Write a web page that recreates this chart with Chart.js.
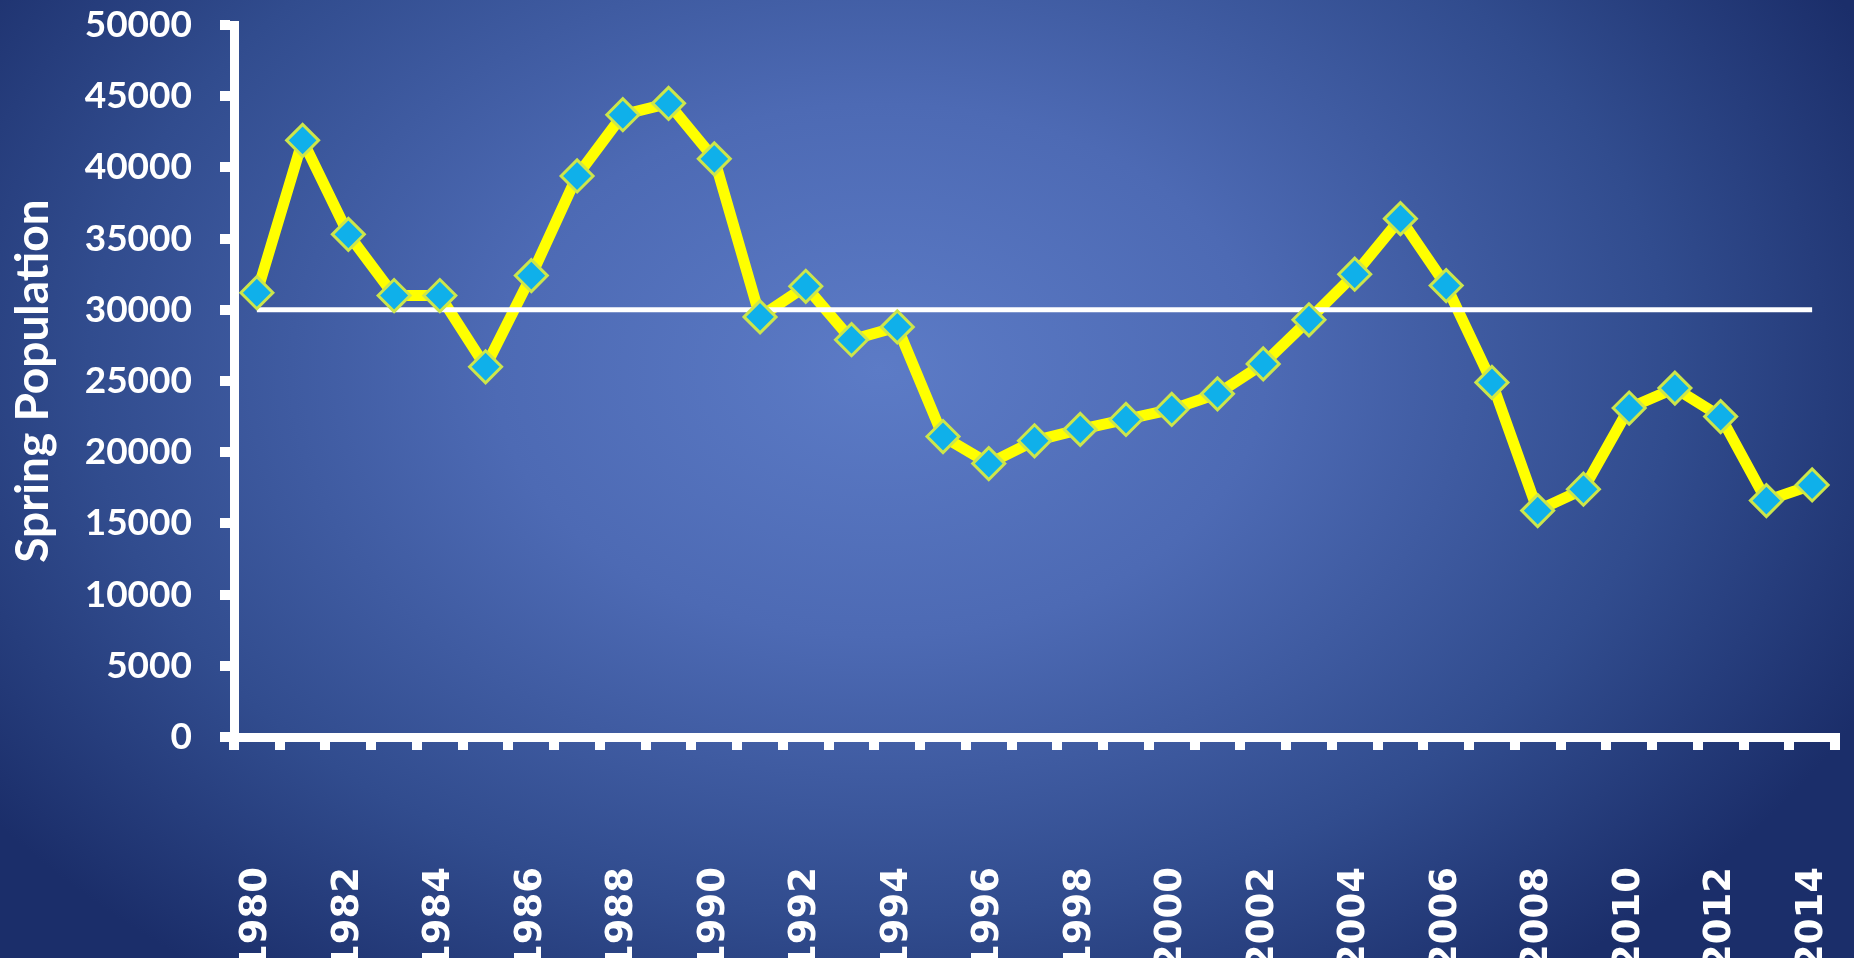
<!DOCTYPE html>
<html>
<head>
<meta charset="utf-8">
<script src="https://cdn.jsdelivr.net/npm/chart.js@4.4.1/dist/chart.umd.min.js"></script>
<style>
html, body { margin:0; padding:0; width:1854px; height:958px; overflow:hidden; }
body {
  background: radial-gradient(ellipse 1100px 760px at 880px 370px,
    #5c7bc6 0%, #4d6ab4 35%, #314c8e 72%, #1b2e6a 100%);
}
#wrap { position:relative; width:1854px; height:958px; }
</style>
</head>
<body>
<div id="wrap"><canvas id="c"></canvas></div>
<script>
const years = ['1980','1981','1982','1983','1984','1985','1986','1987','1988','1989',
  '1990','1991','1992','1993','1994','1995','1996','1997','1998','1999',
  '2000','2001','2002','2003','2004','2005','2006','2007','2008','2009',
  '2010','2011','2012','2013','2014'];
const population = [31200, 41900, 35300, 31000, 31000, 26000, 32400, 39400, 43700, 44500,
  40600, 29500, 31650, 27900, 28800, 21100, 19200, 20800, 21600, 22300,
  23000, 24100, 26200, 29300, 32500, 36400, 31700, 24900, 15900, 17400,
  23100, 24500, 22500, 16600, 17700];
const averageLevel = 30000;
const yMin = 0, yMax = 50000, yStep = 5000;
const yTitle = 'Spring Population';

const avgData = [
  { x: years[0], y: averageLevel },
  { x: years[years.length - 1], y: averageLevel }
];

new Chart(document.getElementById('c'), {
  type: 'line',
  data: {
    labels: years,
    datasets: [
      {
        label: 'markers', data: population, showLine: false, order: 0,
        pointStyle: 'rectRot', pointRadius: 16, pointHoverRadius: 16,
        pointBackgroundColor: '#0fb0ea', pointBorderColor: '#cde64a', pointBorderWidth: 3
      },
      {
        label: 'average', data: avgData, order: 1,
        borderColor: '#ffffff', borderWidth: 5, pointRadius: 0, fill: false
      },
      {
        label: 'population', data: population, order: 2,
        borderColor: '#ffff00', borderWidth: 11, pointRadius: 0, tension: 0, fill: false,
        borderJoinStyle: 'miter'
      }
    ]
  },
  options: {
    responsive: true,
    maintainAspectRatio: false,
    animation: false,
    devicePixelRatio: 1,
    layout: { padding: { top: 25, right: 14, left: 0, bottom: 0 } },
    plugins: { legend: { display: false }, tooltip: { enabled: false } },
    scales: {
      x: {
        type: 'category',
        offset: true,
        grid: { display: true, drawOnChartArea: false, drawTicks: true, offset: true,
                tickLength: 13, tickWidth: 10, tickColor: '#ffffff', color: '#ffffff', lineWidth: 10 },
        border: { display: true, color: '#ffffff', width: 9 },
        ticks: {
          autoSkip: false, maxRotation: 90, minRotation: 90, padding: 117,
          color: '#ffffff',
          font: { family: 'DejaVu Sans', weight: 'bold', size: 37 },
          callback: (v, i) => (i % 2 === 0 ? years[i] : '')
        },
        afterFit: s => {
          s.height = 958 - 737;
          s.paddingLeft = 0; s.paddingRight = 0;
        }
      },
      y: {
        min: yMin, max: yMax,
        grid: { display: true, drawOnChartArea: false, drawTicks: true,
                tickLength: 14, tickWidth: 10, tickColor: '#ffffff', color: '#ffffff', lineWidth: 10 },
        border: { display: true, color: '#ffffff', width: 9 },
        ticks: {
          stepSize: yStep, padding: 28, color: '#ffffff',
          font: { family: 'Lato', weight: 'bold', size: 37 },
          callback: v => String(v)
        },
        title: {
          display: true, text: yTitle, color: '#ffffff',
          font: { family: 'Lato', weight: 'bold', size: 46, lineHeight: 1.2 },
          padding: { top: 6, bottom: 0 }
        },
        afterFit: s => {
          s.width = 234;
          s.paddingTop = 0; s.paddingBottom = 0;
        }
      }
    }
  }
});
</script>
</body>
</html>
